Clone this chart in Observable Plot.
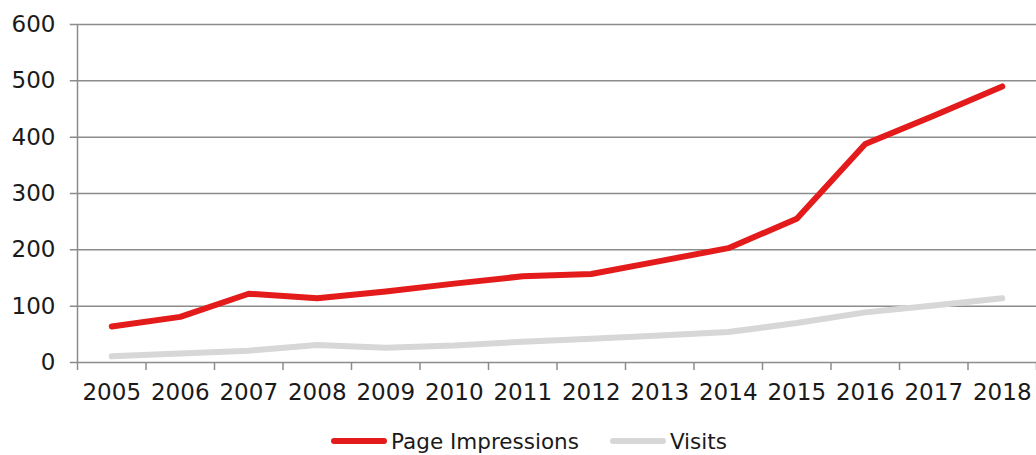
<!DOCTYPE html>
<html>
<head>
<meta charset="utf-8">
<script src="https://cdn.jsdelivr.net/npm/d3@7"></script>
<script src="https://cdn.jsdelivr.net/npm/@observablehq/plot@0.6"></script>
<style>
  html, body { margin: 0; padding: 0; background: #fff; }
  #chart svg { display: block; }
  #legend { display: flex; justify-content: center; align-items: center; gap: 31px; font-family: "DejaVu Sans", sans-serif; font-size: 21.5px; color: #1a1a1a; height: 40px; margin-top: 6px; margin-left: 22px; }
  .item { display: flex; align-items: center; gap: 4px; }
  .swatch { width: 56px; height: 6px; border-radius: 3px; }
</style>
</head>
<body>
<div id="chart"></div>
<div id="legend"></div>
<script>
const years = [2005, 2006, 2007, 2008, 2009, 2010, 2011, 2012, 2013, 2014, 2015, 2016, 2017, 2018];
const pageImpressions = [64, 81, 122, 114, 126, 140, 153, 157, 180, 203, 255, 388, 438, 490];
const visits = [11, 16, 21, 31, 26, 30, 37, 42, 48, 54, 70, 89, 101, 114];
const yTicks = [0, 100, 200, 300, 400, 500, 600];
const seriesNames = ["Page Impressions", "Visits"];
const seriesColors = ["#e31b1b", "#d7d7d7"];

const data = [];
years.forEach((yr, i) => {
  data.push({year: yr, value: pageImpressions[i], series: seriesNames[0]});
  data.push({year: yr, value: visits[i], series: seriesNames[1]});
});
const boundaries = [years[0] - 0.5, ...years.map(y => y + 0.5)];
const gridColor = "#8c8c8c";

const chart = Plot.plot({
  width: 1036,
  height: 415,
  marginLeft: 77,
  marginRight: 0,
  marginTop: 24,
  marginBottom: 53,
  style: {fontFamily: "DejaVu Sans, sans-serif", fontSize: "23px", color: "#1a1a1a", background: "#fff"},
  x: {type: "linear", domain: [years[0] - 0.5, years[years.length - 1] + 0.5]},
  y: {domain: [0, 600]},
  color: {domain: seriesNames, range: seriesColors},
  marks: [
    Plot.gridY(yTicks, {stroke: gridColor, strokeOpacity: 1, strokeWidth: 1.5, x1: years[0] - 0.5 - 0.105, x2: years[years.length - 1] + 0.5}),
    Plot.axisY(yTicks, {tickSize: 0, tickPadding: 22, tickFormat: d => String(d), label: null, fill: "#1a1a1a", fontSize: 23}),
    Plot.ruleX([years[0] - 0.5], {y1: 0, y2: 600, stroke: gridColor, strokeWidth: 1.5}),
    Plot.axisX(boundaries, {tickSize: 8, stroke: gridColor, strokeWidth: 1.5, tickFormat: () => "", label: null}),
    Plot.axisX(years, {tickSize: 0, tickPadding: 21, tickFormat: d => String(d), label: null, fill: "#1a1a1a", fontSize: 23}),
    Plot.line(data, {x: "year", y: "value", z: "series", stroke: "series", strokeWidth: 6, strokeLinecap: "round", strokeLinejoin: "round", sort: (a, b) => seriesNames.indexOf(b.series) - seriesNames.indexOf(a.series)})
  ]
});
document.getElementById("chart").appendChild(chart);

const legend = document.getElementById("legend");
seriesNames.forEach((name, i) => {
  const item = document.createElement("div");
  item.className = "item";
  const sw = document.createElement("span");
  sw.className = "swatch";
  sw.style.background = seriesColors[i];
  const label = document.createElement("span");
  label.textContent = name;
  item.appendChild(sw);
  item.appendChild(label);
  legend.appendChild(item);
});
</script>
</body>
</html>
